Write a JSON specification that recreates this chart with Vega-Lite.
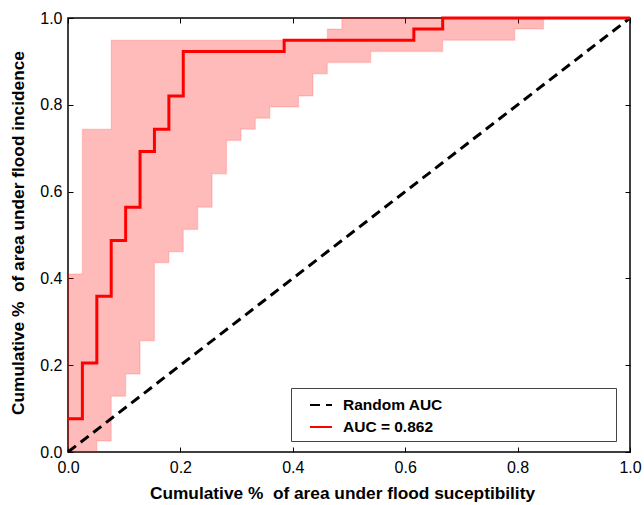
{
  "$schema": "https://vega.github.io/schema/vega-lite/v6.json",
  "autosize": {"type": "none"},
  "width": 562,
  "height": 434,
  "padding": {"left": 68, "top": 18, "right": 14, "bottom": 53},
  "background": "white",
  "config": {
    "view": {"stroke": "black", "strokeWidth": 1.5},
    "font": "Liberation Sans",
    "axis": {
      "grid": false,
      "domain": false,
      "tickColor": "black",
      "tickSize": -5,
      "tickWidth": 1,
      "labelFont": "Liberation Sans",
      "labelFontSize": 16,
      "labelColor": "black",
      "titleFont": "Liberation Sans",
      "titleFontSize": 17.3,
      "titleFontWeight": "bold",
      "titleColor": "black"
    }
  },
  "resolve": {"scale": {"x": "independent", "y": "independent"}, "axis": {"x": "independent", "y": "independent"}},
  "layer": [
    {
      "data": {"values": [
        {"x": 0, "lo": 0, "hi": 0.4103},
        {"x": 0.0256, "lo": 0, "hi": 0.7436},
        {"x": 0.0513, "lo": 0.0256, "hi": 0.7436},
        {"x": 0.0769, "lo": 0.1282, "hi": 0.9487},
        {"x": 0.1026, "lo": 0.1795, "hi": 0.9487},
        {"x": 0.1282, "lo": 0.2564, "hi": 0.9487},
        {"x": 0.1538, "lo": 0.4359, "hi": 0.9487},
        {"x": 0.1795, "lo": 0.4615, "hi": 0.9487},
        {"x": 0.2051, "lo": 0.5128, "hi": 0.9487},
        {"x": 0.2308, "lo": 0.5641, "hi": 0.9487},
        {"x": 0.2564, "lo": 0.641, "hi": 0.9487},
        {"x": 0.2821, "lo": 0.7179, "hi": 0.9487},
        {"x": 0.3077, "lo": 0.7436, "hi": 0.9487},
        {"x": 0.3333, "lo": 0.7692, "hi": 0.9487},
        {"x": 0.359, "lo": 0.7949, "hi": 0.9487},
        {"x": 0.4103, "lo": 0.8205, "hi": 0.9487},
        {"x": 0.4359, "lo": 0.8718, "hi": 0.9487},
        {"x": 0.4615, "lo": 0.8974, "hi": 0.9744},
        {"x": 0.4872, "lo": 0.8974, "hi": 1},
        {"x": 0.5385, "lo": 0.9231, "hi": 1},
        {"x": 0.6667, "lo": 0.9487, "hi": 1},
        {"x": 0.7949, "lo": 0.9744, "hi": 1},
        {"x": 0.8462, "lo": 1, "hi": 1},
        {"x": 1, "lo": 1, "hi": 1}
      ]},
      "mark": {"type": "area", "interpolate": "step-after", "fill": "#ff0000", "fillOpacity": 0.27, "stroke": "#ff0000", "strokeOpacity": 0.12, "strokeWidth": 1.5},
      "encoding": {
        "x": {"field": "x", "type": "quantitative", "scale": {"domain": [0, 1], "nice": false},
          "axis": {"orient": "bottom", "values": [0, 0.2, 0.4, 0.6, 0.8, 1], "format": ".1f", "labelPadding": 12, "labelFlush": false, "title": "Cumulative %\u00a0 of area under flood suceptibility", "titlePadding": 9, "titleX": 274}},
        "y": {"field": "lo", "type": "quantitative", "scale": {"domain": [0, 1], "nice": false},
          "axis": {"orient": "left", "values": [0, 0.2, 0.4, 0.6, 0.8, 1], "format": ".1f", "labelPadding": 11, "labelFlush": false, "title": "Cumulative %\u00a0 of area under flood incidence", "titlePadding": 12, "titleY": 214.5}},
        "y2": {"field": "hi"}
      }
    },
    {
      "data": {"values": [
        {"x": 0, "y": 0, "series": "Random AUC"},
        {"x": 1, "y": 1, "series": "Random AUC"}
      ]},
      "mark": {"type": "line", "strokeWidth": 3},
      "encoding": {
        "x": {"field": "x", "type": "quantitative", "scale": {"domain": [0, 1], "nice": false}, "axis": null},
        "y": {"field": "y", "type": "quantitative", "scale": {"domain": [0, 1], "nice": false}, "axis": null},
        "color": {"field": "series", "type": "nominal", "scale": {"domain": ["Random AUC", "AUC = 0.862"], "range": ["black", "red"]},
          "legend": {"title": null, "orient": "none", "legendX": 223, "legendY": 370, "symbolType": "stroke", "symbolSize": 484, "symbolStrokeWidth": 2, "symbolOffset": 13, "labelFont": "Liberation Sans", "labelFontSize": 15.5, "labelFontWeight": "bold", "labelColor": "black", "labelLimit": 400, "labelExpr": "pad(datum.label, 49, '\u00a0') + '\u200b'", "strokeColor": "#444444", "fillColor": "white", "padding": 5, "rowPadding": 1, "labelOffset": 10}},
        "strokeDash": {"field": "series", "type": "nominal", "scale": {"domain": ["Random AUC", "AUC = 0.862"], "range": [[10, 6], [1, 0]]},
          "legend": {"title": null, "orient": "none", "legendX": 223, "legendY": 370, "symbolType": "stroke", "symbolSize": 484, "symbolStrokeWidth": 2, "symbolOffset": 13, "labelFont": "Liberation Sans", "labelFontSize": 15.5, "labelFontWeight": "bold", "labelColor": "black", "labelLimit": 400, "labelExpr": "pad(datum.label, 49, '\u00a0') + '\u200b'", "strokeColor": "#444444", "fillColor": "white", "padding": 5, "rowPadding": 1, "labelOffset": 10}}
      }
    },
    {
      "data": {"values": [
        {"x": 0, "y": 0.0769, "series": "AUC = 0.862"},
        {"x": 0.0256, "y": 0.2051, "series": "AUC = 0.862"},
        {"x": 0.0513, "y": 0.359, "series": "AUC = 0.862"},
        {"x": 0.0769, "y": 0.4872, "series": "AUC = 0.862"},
        {"x": 0.1026, "y": 0.5641, "series": "AUC = 0.862"},
        {"x": 0.1282, "y": 0.6923, "series": "AUC = 0.862"},
        {"x": 0.1538, "y": 0.7436, "series": "AUC = 0.862"},
        {"x": 0.1795, "y": 0.8205, "series": "AUC = 0.862"},
        {"x": 0.2051, "y": 0.9231, "series": "AUC = 0.862"},
        {"x": 0.3846, "y": 0.9487, "series": "AUC = 0.862"},
        {"x": 0.6154, "y": 0.9744, "series": "AUC = 0.862"},
        {"x": 0.6667, "y": 1, "series": "AUC = 0.862"},
        {"x": 1, "y": 1, "series": "AUC = 0.862"}
      ]},
      "mark": {"type": "line", "interpolate": "step-after", "strokeWidth": 3},
      "encoding": {
        "x": {"field": "x", "type": "quantitative", "scale": {"domain": [0, 1], "nice": false},
          "axis": {"orient": "top", "values": [0, 0.2, 0.4, 0.6, 0.8, 1], "labels": false, "title": null}},
        "y": {"field": "y", "type": "quantitative", "scale": {"domain": [0, 1], "nice": false},
          "axis": {"orient": "right", "values": [0, 0.2, 0.4, 0.6, 0.8, 1], "labels": false, "title": null}},
        "color": {"field": "series", "type": "nominal", "scale": {"domain": ["Random AUC", "AUC = 0.862"], "range": ["black", "red"]}},
        "strokeDash": {"field": "series", "type": "nominal", "scale": {"domain": ["Random AUC", "AUC = 0.862"], "range": [[10, 6], [1, 0]]}}
      }
    }
  ]
}
